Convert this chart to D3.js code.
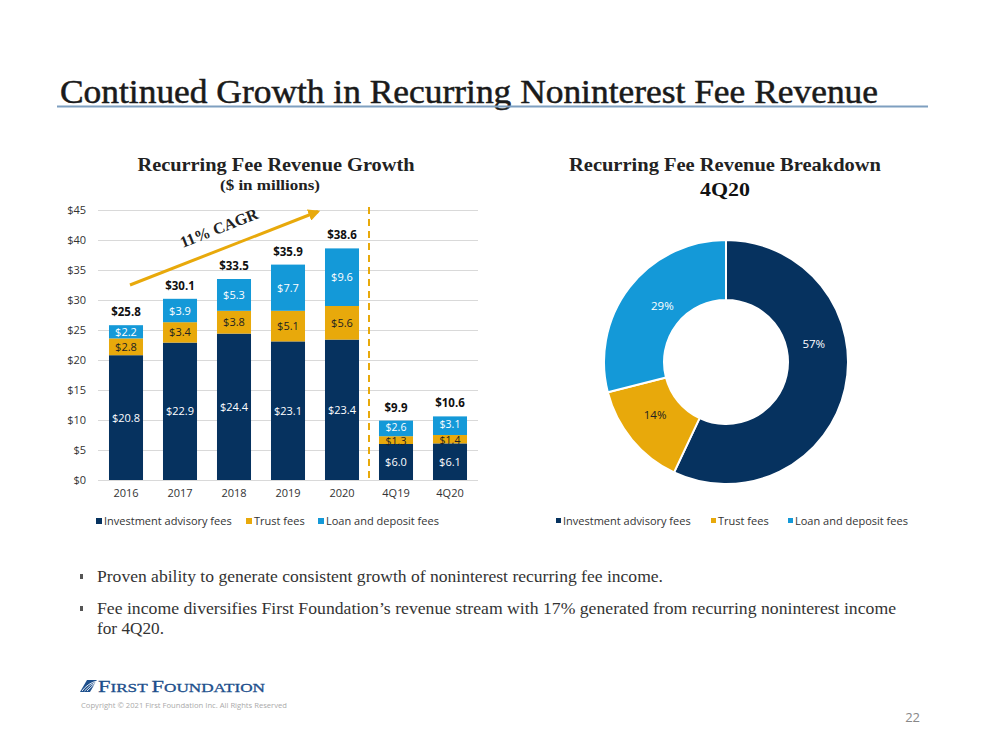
<!DOCTYPE html>
<html><head><meta charset="utf-8">
<script src="https://cdn.jsdelivr.net/npm/d3@7"></script>
<style>body{margin:0;background:#fff}svg{display:block}</style>
</head><body>
<script>
const categories = ["2016","2017","2018","2019","2020","4Q19","4Q20"];
const investmentAdvisory = [20.8,22.9,24.4,23.1,23.4,6.0,6.1];
const trustFees = [2.8,3.4,3.8,5.1,5.6,1.3,1.4];
const loanDeposit = [2.2,3.9,5.3,7.7,9.6,2.6,3.1];
const totals = [25.8,30.1,33.5,35.9,38.6,9.9,10.6];
const yTicks = [0,5,10,15,20,25,30,35,40,45];
const seriesNames = ["Investment advisory fees","Trust fees","Loan and deposit fees"];
const pieValues = [57,14,29];
const colors = ["#06325f","#e8a90b","#1499d8"];

const W=1000,H=750;
const svg=d3.select("body").append("svg").attr("width",W).attr("height",H);
const serif="'Liberation Serif','DejaVu Serif',serif";
const sans="'Open Sans','Noto Sans',sans-serif";

// Title
svg.append("text").attr("x",60).attr("y",103).attr("font-family",serif).attr("font-size",33)
 .attr("fill","#1a1a1a").attr("stroke","#1a1a1a").attr("stroke-width",0.5)
 .attr("textLength",818).attr("lengthAdjust","spacingAndGlyphs")
 .text("Continued Growth in Recurring Noninterest Fee Revenue");
svg.append("line").attr("x1",57).attr("x2",928).attr("y1",106.5).attr("y2",106.5).attr("stroke","#7e9fc0").attr("stroke-width",2);

// Bar chart
const x=d3.scaleBand().domain(categories).range([99,477]).paddingInner(0.37).paddingOuter(0.185);
const y=d3.scaleLinear().domain([0,45]).range([480,210]);
svg.append("text").attr("x",276).attr("y",171).attr("text-anchor","middle").attr("font-family",serif)
 .attr("font-weight","bold").attr("font-size",19).attr("fill","#222")
 .attr("textLength",277).attr("lengthAdjust","spacingAndGlyphs").text("Recurring Fee Revenue Growth");
svg.append("text").attr("x",270).attr("y",190).attr("text-anchor","middle").attr("font-family",serif)
 .attr("font-weight","bold").attr("font-size",14).attr("fill","#222")
 .attr("textLength",100).attr("lengthAdjust","spacingAndGlyphs").text("($ in millions)");

const yAxis=svg.append("g").attr("transform","translate(98,0)")
 .call(d3.axisLeft(y).tickValues(yTicks).tickSize(-380).tickFormat(d=>"$"+d));
yAxis.select(".domain").remove();
yAxis.selectAll(".tick line").attr("stroke","#d9d9d9").attr("stroke-width",1);
yAxis.selectAll(".tick text").attr("x",-12).attr("font-family",sans).attr("font-size",11).attr("fill","#333");

const xAxis=svg.append("g").attr("transform","translate(0,480)").call(d3.axisBottom(x).tickSize(0));
xAxis.select(".domain").remove();
xAxis.selectAll(".tick text").attr("dy","1.2em").attr("y",4).attr("font-family",sans).attr("font-size",11).attr("fill","#333");

const rows=categories.map((c,i)=>({cat:c,inv:investmentAdvisory[i],trust:trustFees[i],loan:loanDeposit[i],total:totals[i]}));
const stack=d3.stack().keys(["inv","trust","loan"])(rows);
const labelFill=["#fff","#222","#fff"];
stack.forEach((layer,li)=>{
  const g=svg.append("g");
  g.selectAll("rect").data(layer).join("rect")
   .attr("x",d=>x(d.data.cat)).attr("width",x.bandwidth())
   .attr("y",d=>y(d[1])).attr("height",d=>y(d[0])-y(d[1])).attr("fill",colors[li]);
  g.selectAll("text").data(layer).join("text")
   .attr("x",d=>x(d.data.cat)+x.bandwidth()/2)
   .attr("y",d=>(y(d[0])+y(d[1]))/2+(d.data.cat.startsWith("4Q")&&li>0?(li===1?4.5:2.5):4))
   .attr("text-anchor","middle").attr("font-family",sans)
   .attr("font-size",d=>d.data.cat.startsWith("4Q")&&li>0?10.5:11)
   .attr("fill",labelFill[li]).text(d=>"$"+(d[1]-d[0]).toFixed(1));
});
svg.append("g").selectAll("text").data(rows).join("text")
 .attr("x",d=>x(d.cat)+x.bandwidth()/2).attr("y",d=>y(d.total)-9)
 .attr("text-anchor","middle").attr("font-family",sans).attr("font-weight","bold").attr("font-size",11.5)
 .attr("fill","#111").text(d=>"$"+d.total.toFixed(1));

// dashed divider
const divX=(x("2020")+x.bandwidth()+x("4Q19"))/2;
svg.append("line").attr("x1",divX).attr("x2",divX).attr("y1",207).attr("y2",480)
 .attr("stroke","#e8a90b").attr("stroke-width",2).attr("stroke-dasharray","7,5");

// CAGR arrow
const defs=svg.append("defs");
defs.append("marker").attr("id","ah").attr("viewBox","0 0 10 10").attr("refX",8).attr("refY",5)
 .attr("markerWidth",4).attr("markerHeight",4).attr("orient","auto")
 .append("path").attr("d","M0,0L10,5L0,10z").attr("fill","#e8a90b");
svg.append("line").attr("x1",130).attr("y1",285).attr("x2",318).attr("y2",211.5)
 .attr("stroke","#e8a90b").attr("stroke-width",3).attr("marker-end","url(#ah)");
svg.append("text").attr("transform","translate(221,233) rotate(-21.5)").attr("text-anchor","middle")
 .attr("font-family",serif).attr("font-weight","bold").attr("font-size",16).attr("fill","#222").text("11% CAGR");

// Left legend
const legL=[{x:96,t:0},{x:246,t:1},{x:318,t:2}];
legL.forEach(l=>{
 svg.append("rect").attr("x",l.x).attr("y",518).attr("width",6).attr("height",6).attr("fill",colors[l.t]);
 svg.append("text").attr("x",l.x+8).attr("y",525).attr("font-family",sans).attr("font-size",11).attr("fill","#333").text(seriesNames[l.t]);
});

// Donut
svg.append("text").attr("x",725).attr("y",171).attr("text-anchor","middle").attr("font-family",serif)
 .attr("font-weight","bold").attr("font-size",19).attr("fill","#222")
 .attr("textLength",312).attr("lengthAdjust","spacingAndGlyphs").text("Recurring Fee Revenue Breakdown");
svg.append("text").attr("x",725).attr("y",196).attr("text-anchor","middle").attr("font-family",serif)
 .attr("font-weight","bold").attr("font-size",19).attr("fill","#111")
 .attr("textLength",50).attr("lengthAdjust","spacingAndGlyphs").text("4Q20");
const pie=d3.pie().sort(null)(pieValues);
const arc=d3.arc().innerRadius(62).outerRadius(122);
const labelArc=d3.arc().innerRadius(92).outerRadius(92);
// Excel "best fit" style label nudges (relative to centroid)
const pieLabelNudge=[[-2,-38],[0,-6],[9,0]];
const dg=svg.append("g").attr("transform","translate(726,362)");
dg.selectAll("path").data(pie).join("path").attr("d",arc).attr("fill",(d,i)=>colors[i])
 .attr("stroke","#fff").attr("stroke-width",2);
dg.selectAll("text").data(pie).join("text")
 .attr("transform",(d,i)=>{const c=labelArc.centroid(d);return `translate(${c[0]+pieLabelNudge[i][0]},${c[1]+pieLabelNudge[i][1]})`;})
 .attr("dy","0.35em").attr("text-anchor","middle")
 .attr("font-family",sans).attr("font-size",11.5).attr("fill",(d,i)=>i===1?"#222":"#fff")
 .text(d=>d.data+"%");

const legR=[{x:556,t:0},{x:711,t:1},{x:788,t:2}];
legR.forEach(l=>{
 svg.append("rect").attr("x",l.x).attr("y",518).attr("width",5).attr("height",5).attr("fill",colors[l.t]);
 svg.append("text").attr("x",l.x+7).attr("y",525).attr("font-family",sans).attr("font-size",11).attr("fill","#333").text(seriesNames[l.t]);
});

// Bullets
const bullets=[
 {y:582,w:566,t:"Proven ability to generate consistent growth of noninterest recurring fee income."},
 {y:614,w:799,t:"Fee income diversifies First Foundation\u2019s revenue stream with 17% generated from recurring noninterest income"},
 {y:634,w:67,t:"for 4Q20.",nob:true}];
bullets.forEach(b=>{
 if(!b.nob) svg.append("rect").attr("x",80).attr("y",b.y-8).attr("width",3).attr("height",5).attr("fill","#555");
 svg.append("text").attr("x",97).attr("y",b.y).attr("font-family",serif).attr("font-size",16.5).attr("fill","#333")
  .attr("textLength",b.w).attr("lengthAdjust","spacingAndGlyphs").text(b.t);
});

// Logo
const lg=svg.append("g");
lg.append("path").attr("d","M80,692L87,680L97,680L90,692Z").attr("fill","#1d4f8c");
[0,1,2].forEach(i=>{
 lg.append("path").attr("d",`M${82+i*2.5},${691}Q${88+i*2},${683+i*1.5} ${97},${681+i*0.5}`).attr("fill","none").attr("stroke","#fff").attr("stroke-width",0.9);
});
const lt=lg.append("text").attr("x",98).attr("y",692).attr("font-family",serif)
 .attr("font-size",17).attr("fill","#1d4f8c").attr("stroke","#1d4f8c").attr("stroke-width",0.3)
 .attr("textLength",167).attr("lengthAdjust","spacingAndGlyphs");
lt.append("tspan").text("F");
lt.append("tspan").attr("font-size",13).text("IRST ");
lt.append("tspan").text("F");
lt.append("tspan").attr("font-size",13).text("OUNDATION");
svg.append("text").attr("x",81).attr("y",708).attr("font-family",sans).attr("font-size",7.5).attr("fill","#aaa")
 .attr("textLength",206).attr("lengthAdjust","spacingAndGlyphs")
 .text("Copyright \u00a9 2021 First Foundation Inc. All Rights Reserved");
svg.append("text").attr("x",920).attr("y",722).attr("text-anchor","end").attr("font-family",sans).attr("font-size",13).attr("fill","#888").text("22");
</script>
</body></html>
